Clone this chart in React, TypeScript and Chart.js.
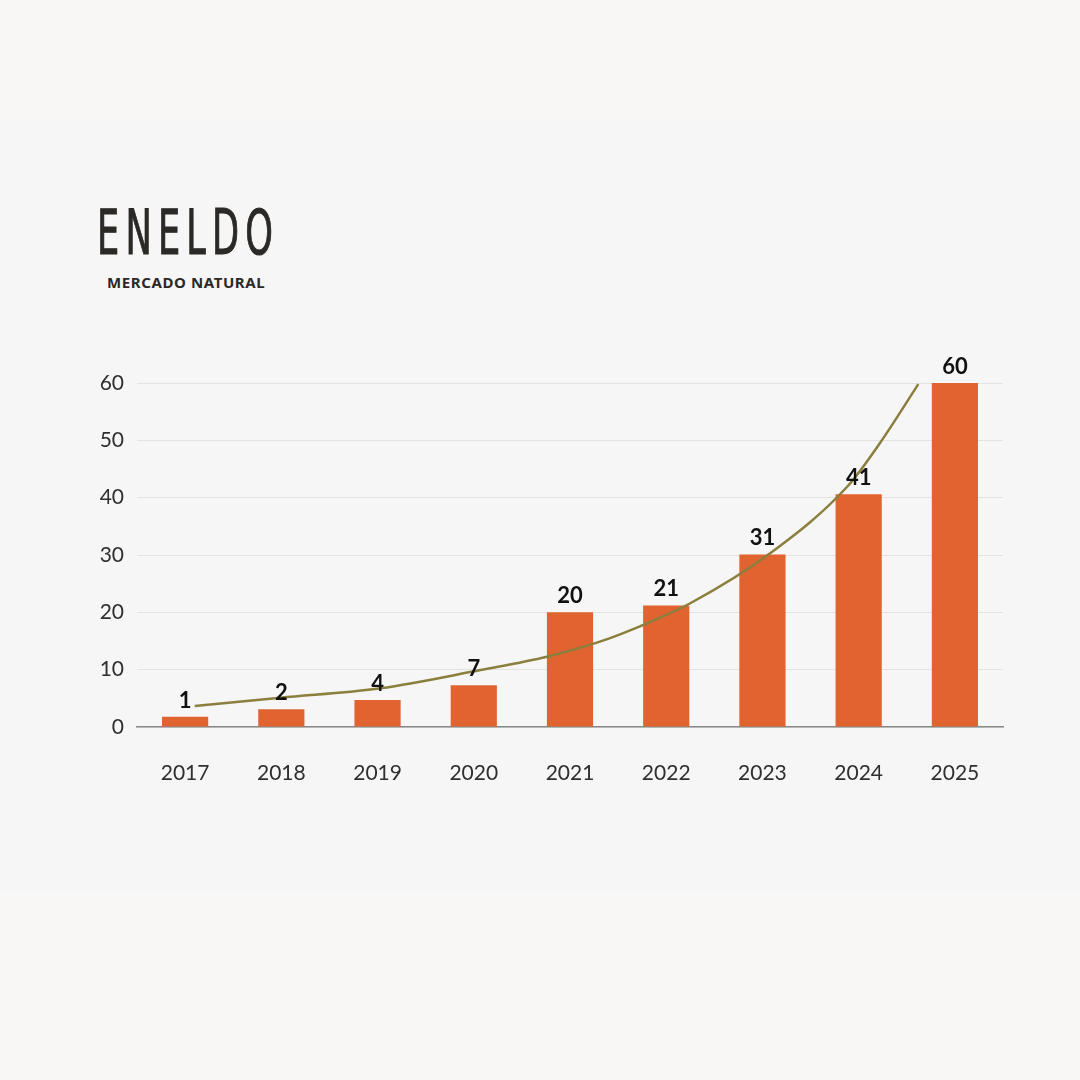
import React, { useEffect, useRef } from "react";
import { Chart, registerables } from "chart.js";

Chart.register(...registerables);

// ---- data ----
const years = ["2017", "2018", "2019", "2020", "2021", "2022", "2023", "2024", "2025"];
const barValues = [1.8, 3.1, 4.7, 7.3, 20, 21.2, 30.1, 40.6, 60];
const barLabels = ["1", "2", "4", "7", "20", "21", "31", "41", "60"];
// trend curve (x in category index units)
const trendX = [0.1, 0.99, 2.03, 3.07, 3.76, 4.31, 4.8, 5.25, 6.08, 6.88, 7.22, 7.62];
const trendY = [3.66, 5.11, 6.75, 9.94, 12.26, 14.88, 18.09, 21.58, 30.3, 41.9, 49.5, 59.8];
const yMin = 0;
const yMax = 60;
const yStep = 10;

const BAR_COLOR = "#e06330";
const TREND_COLOR = "#8b7f3d";
const TEXT_COLOR = "#2f2f2f";

const labelPlugin = {
  id: "barValueLabels",
  afterDatasetsDraw(chart: any) {
    const ctx = chart.ctx;
    const meta = chart.getDatasetMeta(1);
    ctx.save();
    ctx.fillStyle = "#111111";
    ctx.font = "bold 22px Lato, 'Noto Sans', sans-serif";
    ctx.textAlign = "center";
    ctx.textBaseline = "alphabetic";
    meta.data.forEach((bar: any, i: number) => {
      ctx.fillText(barLabels[i], bar.x, bar.y - 9);
    });
    ctx.restore();
  },
};

export default function App() {
  const canvasRef = useRef<HTMLCanvasElement | null>(null);

  useEffect(() => {
    document.body.style.margin = "0";
    const canvas = canvasRef.current;
    if (!canvas) return;
    const chart = new Chart(canvas, {
      type: "bar",
      data: {
        labels: years,
        datasets: [
          {
            type: "line",
            data: trendX.map((x, i) => ({ x, y: trendY[i] })),
            xAxisID: "xTrend",
            borderColor: TREND_COLOR,
            borderWidth: 2.5,
            pointRadius: 0,
            fill: false,
            cubicInterpolationMode: "monotone",
            order: 0,
          } as any,
          {
            type: "bar",
            data: barValues,
            backgroundColor: BAR_COLOR,
            barPercentage: 0.48,
            categoryPercentage: 1,
            grouped: false,
            order: 1,
          } as any,
        ],
      },
      options: {
        animation: false,
        responsive: false,
        maintainAspectRatio: false,
        layout: { padding: { left: 0, right: 77, top: 383, bottom: 0 } },
        plugins: { legend: { display: false }, tooltip: { enabled: false } },
        scales: {
          x: {
            type: "category",
            offset: true,
            grid: { display: false, drawTicks: false },
            border: { display: true, color: "#8a8a8a", width: 1.5 },
            ticks: {
              color: TEXT_COLOR,
              font: { family: "Lato, 'Open Sans', sans-serif", size: 21 },
              padding: 34,
              maxRotation: 0,
            },
            afterFit: (scale: any) => {
              scale.height = 353;
            },
          },
          xTrend: {
            type: "linear",
            display: false,
            offset: false,
            min: -0.5,
            max: years.length - 0.5,
          },
          y: {
            min: yMin,
            max: yMax,
            grid: { color: "#e2e2e2", lineWidth: 1, drawTicks: false },
            border: { display: false },
            ticks: {
              stepSize: yStep,
              color: TEXT_COLOR,
              font: { family: "Lato, 'Open Sans', sans-serif", size: 21 },
              padding: 13,
            },
            afterFit: (scale: any) => {
              scale.width = 137;
            },
          },
        },
      },
      plugins: [labelPlugin],
    });
    return () => chart.destroy();
  }, []);

  return (
    <div
      style={{
        position: "absolute",
        left: 0,
        top: 0,
        width: 1080,
        height: 1080,
        background: "#f8f7f5",
        overflow: "hidden",
      }}
    >
      <div
        style={{
          position: "absolute",
          left: 0,
          top: 118,
          width: 1080,
          height: 774,
          background: "#f6f6f6",
        }}
      />
      <div
        style={{
          position: "absolute",
          left: 97,
          top: 193,
          fontFamily: "'DejaVu Sans Condensed', 'DejaVu Sans', sans-serif",
          fontWeight: 400,
          fontSize: 63,
          lineHeight: "80px",
          color: "#2b2926",
          letterSpacing: 10,
          WebkitTextStroke: "1px #2b2926",
          transform: "scaleX(0.62)",
          transformOrigin: "left top",
          whiteSpace: "nowrap",
        }}
      >
        ENELDO
      </div>
      <div
        style={{
          position: "absolute",
          left: 107,
          top: 272,
          fontFamily: "'Noto Sans', sans-serif",
          fontWeight: 700,
          fontSize: 15,
          lineHeight: "20px",
          color: "#2b2926",
          letterSpacing: 0.6,
          whiteSpace: "nowrap",
        }}
      >
        MERCADO NATURAL
      </div>
      <canvas
        ref={canvasRef}
        width={1080}
        height={1080}
        style={{ position: "absolute", left: 0, top: 0, width: 1080, height: 1080 }}
      />
    </div>
  );
}
